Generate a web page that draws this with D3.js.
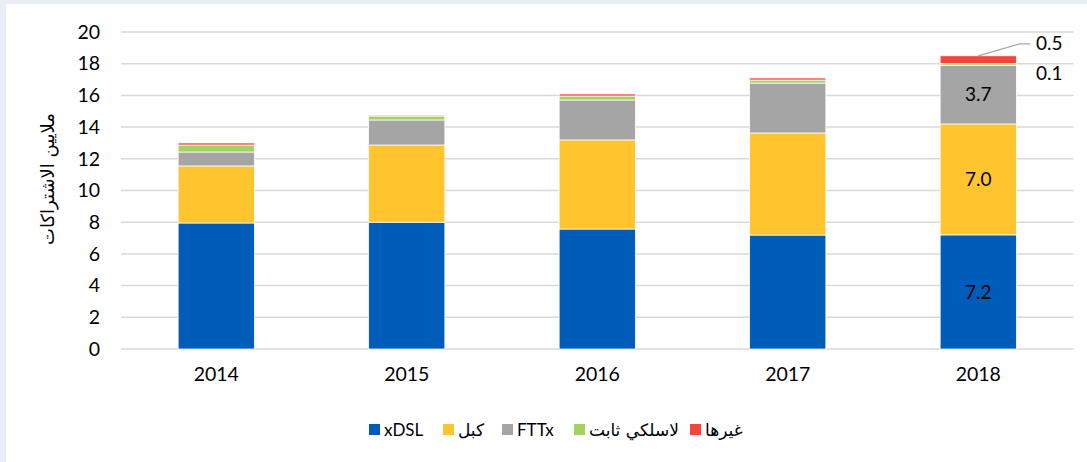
<!DOCTYPE html>
<html lang="ar">
<head>
<meta charset="UTF-8" />
<script src="https://cdn.jsdelivr.net/npm/d3@7/dist/d3.min.js"></script>
<style>
  body { margin: 0; background: #e9edf5; }
  svg { display: block; }
  text { font-family: Lato, "DejaVu Sans", sans-serif; fill: #000; }
</style>
</head>
<body>
<svg id="chart" width="1087" height="462"></svg>
<script>
const years = ['2014', '2015', '2016', '2017', '2018'];
const seriesNames = ['xDSL', 'كبل', 'FTTx', 'لاسلكي ثابت', 'غيرها'];
const colors = ['#005cb9', '#ffc42e', '#a5a5a5', '#a2d35f', '#f4453a'];
const xdsl = [7.95, 8.0, 7.57, 7.19, 7.2];
const cable = [3.6, 4.87, 5.62, 6.44, 7.0];
const fttx = [0.88, 1.58, 2.52, 3.15, 3.7];
const wireless = [0.44, 0.25, 0.25, 0.19, 0.1];
const other = [0.13, 0.06, 0.13, 0.13, 0.5];
const yTicks = [0, 2, 4, 6, 8, 10, 12, 14, 16, 18, 20];

const svg = d3.select('#chart');

// white panel, light frame left and top
svg.append('rect').attr('x', 6).attr('y', 4).attr('width', 1081).attr('height', 458).attr('fill', '#fff');

const y = d3.scaleLinear().domain([0, 20]).range([349, 32]);
const x = d3.scaleBand().domain(years).range([121, 1073.5]).paddingInner(0.6).paddingOuter(0.3);

// grid
svg.append('g').selectAll('line').data(yTicks).enter().append('line')
  .attr('x1', 121).attr('x2', 1073.5)
  .attr('y1', d => y(d)).attr('y2', d => y(d))
  .attr('stroke', '#d9d9d9').attr('stroke-width', 1.5);

// y axis labels
const yAxis = d3.axisLeft(y).tickValues(yTicks).tickSize(0).tickPadding(0);
const ya = svg.append('g').attr('transform', 'translate(100,0)').call(yAxis);
ya.select('.domain').remove();
ya.selectAll('text').attr('font-size', 19.5).style('font-family', 'Lato, sans-serif');

// x axis labels
const xAxis = d3.axisBottom(x).tickSize(0).tickPadding(0);
const xa = svg.append('g').attr('transform', 'translate(0,367)').call(xAxis);
xa.select('.domain').remove();
xa.selectAll('text').attr('font-size', 19.5).style('font-family', 'Lato, sans-serif');

// y title
svg.append('text')
  .attr('transform', 'translate(54,179) rotate(-90)')
  .attr('text-anchor', 'middle')
  .attr('font-size', 18)
  .attr('direction', 'rtl')
  .style('font-family', '"DejaVu Sans", sans-serif')
  .text('ملايين الاشتراكات');

// stacked bars
const rows = years.map((yr, i) => ({ year: yr, s0: xdsl[i], s1: cable[i], s2: fttx[i], s3: wireless[i], s4: other[i] }));
const stack = d3.stack().keys(['s0', 's1', 's2', 's3', 's4']);
const layers = stack(rows);

svg.append('g').selectAll('g').data(layers).enter().append('g')
  .attr('fill', (d, i) => colors[i])
  .selectAll('rect').data(d => d).enter().append('rect')
  .attr('x', d => x(d.data.year))
  .attr('width', x.bandwidth())
  .attr('y', d => y(d[1]))
  .attr('height', d => y(d[0]) - y(d[1]))
  .attr('stroke', '#fff').attr('stroke-width', 0.75);

// data labels for 2018
const last = years.length - 1;
const cx = x('2018') + x.bandwidth() / 2;
[0, 1, 2].forEach(k => {
  const seg = layers[k][last];
  svg.append('text')
    .attr('x', cx).attr('y', (y(seg[0]) + y(seg[1])) / 2)
    .attr('dy', '0.35em').attr('text-anchor', 'middle').attr('font-size', 19)
    .text(d3.format('.1f')(seg[1] - seg[0]));
});
const segW = layers[3][last], segO = layers[4][last];
svg.append('text').attr('x', 1036).attr('y', y(segW[1]) + 10).attr('dy', '0.35em')
  .attr('font-size', 19).text(d3.format('.1f')(wireless[last]));
svg.append('polyline')
  .attr('points', `${cx},${y(segO[1])} ${1020},${y(segO[1]) - 12} ${1030},${y(segO[1]) - 12}`)
  .attr('fill', 'none').attr('stroke', '#a6a6a6').attr('stroke-width', 1.3);
svg.append('text').attr('x', 1036).attr('y', y(segO[1]) - 12).attr('dy', '0.35em')
  .attr('font-size', 19).text(d3.format('.1f')(other[last]));

// legend
const lg = svg.append('g').attr('transform', 'translate(0,430)');
const legendX = [369, 443, 502, 574, 690];
seriesNames.forEach((name, i) => {
  lg.append('rect').attr('x', legendX[i]).attr('y', -6).attr('width', 11).attr('height', 11).attr('fill', colors[i]);
  lg.append('text').attr('x', legendX[i] + 15).attr('y', 0).attr('dy', '0.35em')
    .attr('font-size', 17)
    .style('font-family', i === 0 || i === 2 ? 'Lato, sans-serif' : '"DejaVu Sans", sans-serif')
    .text(name);
});
</script>
</body>
</html>
